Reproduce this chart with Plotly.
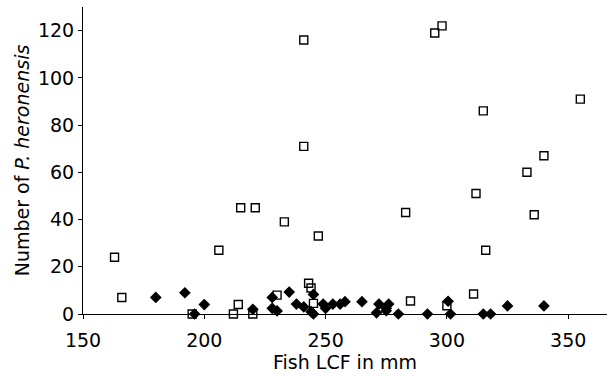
import plotly.graph_objects as go

# Open squares series
sq_x = [163, 166, 195, 206, 212, 214, 215, 220, 221, 230, 233, 241, 241, 243, 244, 245, 247,
        283, 285, 295, 298, 300, 311, 312, 315, 316, 333, 336, 340, 355]
sq_y = [24, 7, 0, 27, 0, 4, 45, 0, 45, 8, 39, 71, 116, 13, 11, 4.5, 33,
        43, 5.5, 119, 122, 3.5, 8.5, 51, 86, 27, 60, 42, 67, 91]

# Filled diamonds series
dm_x = [180, 192, 196, 200, 220, 228, 228, 230, 235, 238, 241, 244, 245, 245, 249, 250, 253,
        256, 258, 265, 271, 272, 275, 275, 276, 280, 292, 300.5, 301.5, 315, 318, 325, 340]
dm_y = [7, 9, 0, 4, 2, 7, 2.4, 1.3, 9.3, 4.2, 3, 1, 8.3, 0, 4.2, 2.4, 4.2,
        4.2, 5.2, 5.2, 0.5, 4.2, 1.4, 2.4, 4.2, 0, 0, 5.4, 0, 0, 0, 3.4, 3.4]

x_ticks = [150, 200, 250, 300, 350]
y_ticks = [0, 20, 40, 60, 80, 100, 120]

font = "DejaVu Sans, Liberation Sans, Arial, sans-serif"

fig = go.Figure()
fig.add_trace(go.Scatter(
    x=sq_x, y=sq_y, mode="markers", cliponaxis=False,
    marker=dict(symbol="square-open", size=8, color="black", line=dict(width=1.4, color="black")),
    showlegend=False))
fig.add_trace(go.Scatter(
    x=dm_x, y=dm_y, mode="markers", cliponaxis=False,
    marker=dict(symbol="diamond", size=9, color="black", line=dict(width=0)),
    showlegend=False))

fig.update_layout(
    width=612, height=376,
    margin=dict(l=83, r=5, t=7, b=62),
    paper_bgcolor="white", plot_bgcolor="white",
    font=dict(family=font, size=19, color="black"),
    xaxis=dict(range=[150, 366], tickvals=x_ticks, ticks="outside", ticklen=4, tickwidth=1,
               tickcolor="black", showline=True, linecolor="black", linewidth=1,
               showgrid=False, zeroline=False, tickfont=dict(size=19), ticklabelstandoff=5,
               title=dict(text="Fish LCF in mm", font=dict(size=19), standoff=2)),
    yaxis=dict(range=[0, 130], tickvals=y_ticks, ticks="outside", ticklen=4, tickwidth=1,
               tickcolor="black", showline=True, linecolor="black", linewidth=1,
               showgrid=False, zeroline=False, tickfont=dict(size=19),
               title=dict(text="Number of <i>P. heronensis</i>", font=dict(size=19), standoff=3)),
)

fig.write_html("out.html", config={"displayModeBar": False},
               post_script="document.body.style.margin='0';")
